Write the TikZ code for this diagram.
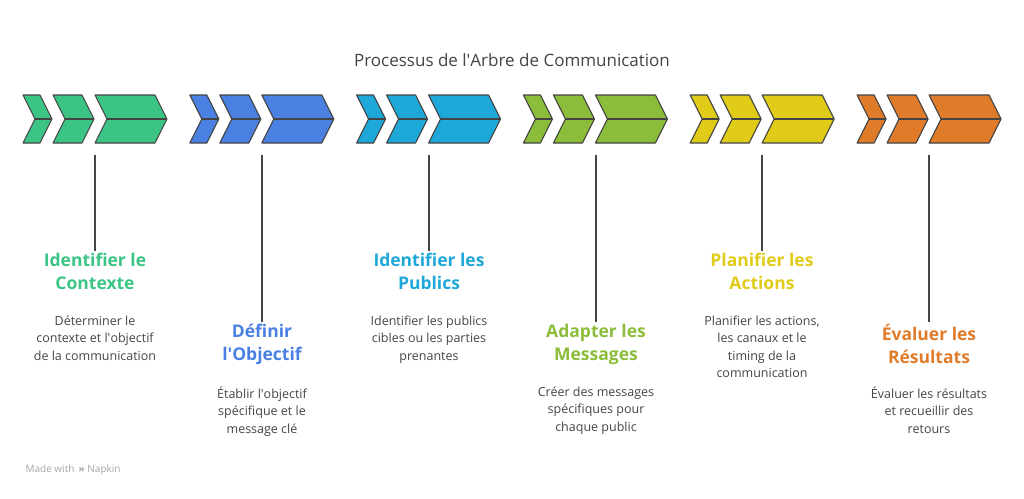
\documentclass[tikz,border=0pt]{standalone}
\usepackage{fontspec}
\setmainfont[Ligatures=ResetAll]{Open Sans}
\newcommand{\ap}{\textquotesingle}
\definecolor{cA}{HTML}{3CC484}
\definecolor{cB}{HTML}{4A80E2}
\definecolor{cC}{HTML}{1EA8D8}
\definecolor{cD}{HTML}{8BBD3A}
\definecolor{cE}{HTML}{E0CB18}
\definecolor{cF}{HTML}{E07B2A}
\definecolor{txt}{HTML}{444444}
\tikzset{
 chev/.style={draw=txt,line width=1.1pt,line join=round},
 lbl/.style={font=\fontsize{17.5}{23}\selectfont\bfseries,align=center,anchor=north},
 desc/.style={font=\fontsize{12.5}{17.5}\selectfont,text=txt,align=center,anchor=north},
 stem/.style={draw=txt,line width=1.2pt}
}
\newcommand{\onechev}[3]{% x0, w, color
  \fill[#3] (#1,95) -- ({#1+#2-12},95) -- ({#1+#2},119) -- ({#1+#2-12},143) -- (#1,143) -- ({#1+12},119) -- cycle;
  \draw[chev] (#1,95) -- ({#1+#2-12},95) -- ({#1+#2},119) -- ({#1+#2-12},143) -- (#1,143) -- ({#1+12},119) -- cycle;
  \draw[chev] ({#1+12},119) -- ({#1+#2},119);
}
\newcommand{\group}[2]{% offset, color
  \onechev{#1+23}{29}{#2}
  \onechev{#1+53}{41}{#2}
  \onechev{#1+95}{72}{#2}
}
\begin{document}
\begin{tikzpicture}[x=1pt,y=-1pt]
\useasboundingbox (0,0) rectangle (1024,498);
\node[font=\fontsize{17}{20}\selectfont,text=txt] (title) at (512,60) {Processus de l\ap Arbre de Communication};
\group{0}{cA}
\group{166.8}{cB}
\group{333.6}{cC}
\group{500.4}{cD}
\group{667.2}{cE}
\group{834}{cF}
\coordinate (s1) at (95,155); \coordinate (s2) at (262,155); \coordinate (s3) at (429,155);
\coordinate (s4) at (596,155); \coordinate (s5) at (762,155); \coordinate (s6) at (929,155);
\node[lbl,text=cA] (l1) at (95,250) {Identifier le\\Contexte};
\node[desc] (d1) at (95,312) {Déterminer le\\contexte et l\ap objectif\\de la communication};
\node[lbl,text=cB] (l2) at (262,321) {Définir\\l\ap Objectif};
\node[desc] (d2) at (262,383) {Établir l\ap objectif\\spécifique et le\\message clé};
\node[lbl,text=cC] (l3) at (429,250) {Identifier les\\Publics};
\node[desc] (d3) at (429,312) {Identifier les publics\\cibles ou les parties\\prenantes};
\node[lbl,text=cD] (l4) at (596,321) {Adapter les\\Messages};
\node[desc] (d4) at (596,383) {Créer des messages\\spécifiques pour\\chaque public};
\node[lbl,text=cE] (l5) at (762,250) {Planifier les\\Actions};
\node[desc] (d5) at (762,312) {Planifier les actions,\\les canaux et le\\timing de la\\communication};
\node[lbl,text=cF] (l6) at (929,321) {Évaluer les\\Résultats};
\node[desc] (d6) at (929,383) {Évaluer les résultats\\et recueillir des\\retours};
\foreach \i in {1,...,6} \draw[stem] (s\i) -- ([yshift=-1pt]l\i.north);
\node[anchor=west,font=\fontsize{10}{12}\selectfont,text=gray!70] (mw) at (22,470) {Made with \,\textbf{»} Napkin};
\end{tikzpicture}
\end{document}
